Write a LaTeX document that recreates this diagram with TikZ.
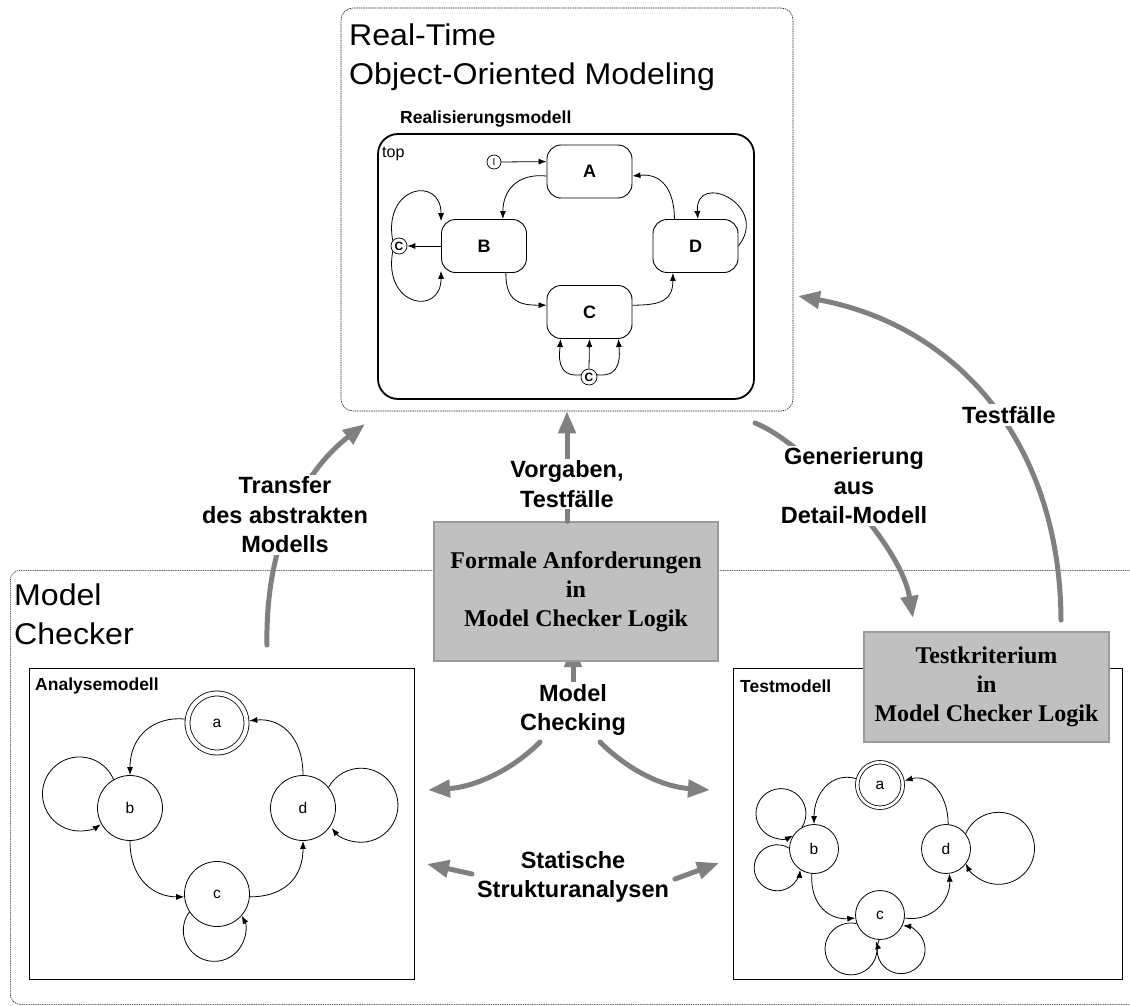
\documentclass[tikz,border=0pt]{standalone}
\usepackage{fontspec}
\setmainfont{Liberation Serif}
\setsansfont{Liberation Sans}
\newfontfamily\titlefamily[FakeStretch=1.07]{Liberation Sans}
\usetikzlibrary{arrows.meta}

\pgfdeclarelayer{bg}
\pgfsetlayers{bg,main}

\definecolor{flowgray}{RGB}{128,128,128}
\definecolor{logicfill}{RGB}{192,192,192}
\definecolor{logicline}{RGB}{155,155,155}

\newcommand\titlefont{\titlefamily\fontsize{30}{39}\selectfont}
\newcommand\flowfont{\sffamily\bfseries\fontsize{23.5}{29.5}\selectfont}
\newcommand\headfont{\sffamily\bfseries\fontsize{17.5}{20}\selectfont}
\newcommand\logicfont{\rmfamily\bfseries\fontsize{24}{29}\selectfont}
\newcommand\statefont{\sffamily\bfseries\fontsize{18}{18}\selectfont}
\newcommand\circfont{\sffamily\fontsize{15.5}{15.5}\selectfont}
\newcommand\juncfont{\sffamily\bfseries\fontsize{12}{12}\selectfont}

\tikzset{
  frame/.style={draw=black!85, line width=0.6pt, dash pattern=on 1.5pt off 0.8pt},
  modelbox/.style={draw=black, line width=0.9pt, inner sep=0pt},
  logicbox/.style={draw=logicline, line width=1.2pt, fill=logicfill, align=center, font=\logicfont},
  flow/.style={draw=flowgray, line width=5pt, line cap=round, -{Triangle[length=22pt,width=17pt]}},
  flowlabel/.style={font=\flowfont, align=center, fill=white, inner sep=2pt},
  trans/.style={draw=black, line width=0.8pt, -{Latex[length=8pt,width=6pt]}},
  chartstate/.style={draw, line width=0.9pt, rounded corners=14pt, minimum width=85pt, minimum height=53pt, inner sep=0pt, font=\statefont},
  junction/.style={draw, circle, line width=0.7pt, minimum size=16pt, inner sep=0pt, font=\juncfont},
  anstate/.style={draw, circle, line width=0.8pt, minimum size=65pt, inner sep=0pt, font=\circfont},
  tmstate/.style={draw, circle, line width=0.8pt, minimum size=49pt, inner sep=0pt, font=\circfont},
  boxhead/.style={anchor=west, inner sep=0pt, font=\headfont},
  bigtitle/.style={anchor=north west, inner sep=0pt, align=left, font=\titlefont}
}

\begin{document}
\begin{tikzpicture}[x=1pt,y=-1pt]
\useasboundingbox (0,0) rectangle (1130,1006);
\clip (0,0) rectangle (1130,1006);

% ---- outer frames ----
\node[frame, rounded corners=12pt, minimum width=452pt, minimum height=403pt] (rt) at (567,209.5) {};
\node[frame, rounded corners=10pt, anchor=north west, minimum width=1140pt, minimum height=434pt] (mcf) at (10,570) {};
\node[bigtitle] (rttitle) at (349,24) {Real-Time\\Object-Oriented Modeling};
\node[bigtitle] (mctitle) at (14,584) {Model\\Checker};

% ---- realisation statechart ----
\node[boxhead] (rmlabel) at (400,119) {Realisierungsmodell};
\node[draw, line width=1.8pt, rounded corners=20pt, minimum width=376pt, minimum height=265pt] (topst) at (566,266.5) {};
\node[anchor=west, inner sep=0pt, font=\sffamily\fontsize{16}{16}\selectfont] (toplabel) at (382,154) {top};
\node[chartstate] (A) at (589.5,171.5) {A};
\node[chartstate] (B) at (484,246) {B};
\node[chartstate] (C) at (589.5,312) {C};
\node[chartstate] (D) at (695.5,246) {D};
\node[junction, minimum size=14pt, font=\sffamily\fontsize{10}{10}\selectfont] (init) at (494,162) {I};
\node[junction] (lj) at (399,246) {C};
\node[junction] (cj) at (589,377) {C};

\draw[trans] (init.east) -- (A.167);
\draw[trans] (A.186) .. controls +(-30,-3) and +(0,-28) .. (B.55);
\draw[trans] (D.128) .. controls +(0,-28) and +(30,-3) .. (A.354);
\draw[trans] (B.-51) .. controls +(0,28) and +(-28,0) .. (C.171);
\draw[trans] (C.9) .. controls +(28,0) and +(0,28) .. (D.-130);
\draw[trans] (D.east) .. controls +(32,-41) and +(-3,-49) .. (D.85);
\draw[trans] (B.west) -- (lj.east);
\draw[trans] (lj.139) .. controls +(-10,-55) and +(0,-46) .. (B.150);
\draw[trans] (lj.-139) .. controls +(-10,55) and +(0,46) .. (B.-150);
\draw[trans] (cj.north) -- (C.south);
\draw[trans] (cj.165) .. controls +(-26,3) and +(-1,14) .. (C.-137);
\draw[trans] (cj.15) .. controls +(26,3) and +(1,14) .. (C.-43);

% ---- analysis model ----
\node[modelbox, minimum width=385pt, minimum height=311pt] (anbox) at (221.5,823.5) {};
\node[boxhead] (anlabel) at (35,686) {Analysemodell};
\node[anstate, minimum size=59pt, double, double distance=4.2pt, outer sep=2.9pt] (aa) at (217,723) {a};
\node[anstate] (ab) at (130,808) {b};
\node[anstate] (ac) at (217,894) {c};
\node[anstate] (ad) at (303,808) {d};

\draw[trans] (aa.173) .. controls +(-30,-3) and +(0,-40) .. (ab.north);
\draw[trans] (ad.north) .. controls +(0,-40) and +(30,-3) .. (aa.4);
\draw[trans] (ab.south) .. controls +(0,39) and +(-30,0) .. (ac.185);
\draw[trans] (ac.-5) .. controls +(31,0) and +(0,40) .. (ad.south);
\draw[trans] (ab.120) arc[start angle=-23, end angle=-305, radius=37];
\draw[trans] (ad.39) arc[start angle=-151, end angle=142, radius=37];
\draw[trans] (ac.213) arc[start angle=-143.5, end angle=-388, radius=31];

% ---- test model ----
\node[modelbox, minimum width=389pt, minimum height=311pt] (tmbox) at (927.5,823.5) {};
\node[boxhead] (tmlabel) at (740,686) {Testmodell};
\node[tmstate, minimum size=45.5pt, double, double distance=2.7pt, outer sep=2.2pt] (ta) at (880,785) {a};
\node[tmstate] (tb) at (814,849) {b};
\node[tmstate] (tc) at (880,915) {c};
\node[tmstate] (td) at (946,849) {d};

\draw[trans] (ta.165) .. controls +(-25,-7) and +(0,-30) .. (tb.north);
\draw[trans] (td.85) .. controls +(0,-30) and +(25,-7) .. (ta.10);
\draw[trans] (tb.265) .. controls +(-2,32) and +(-25,2) .. (tc.187);
\draw[trans] (tc.-7) .. controls +(25,4) and +(1,29) .. (td.-82);
\draw[trans] (tb.119) arc[start angle=33, end angle=-298.5, radius=25];
\draw[trans] (tb.178) arc[start angle=-58.7, end angle=-355, radius=23];
\draw[trans] (td.38) arc[start angle=-156, end angle=155, radius=36];
\draw[trans] (tc.200) arc[start angle=-77.6, end angle=-377, radius=26];
\draw[trans] (tc.268) arc[start angle=-156, end angle=-445, radius=24];

% ---- requirement and criterion boxes ----
\node[logicbox, minimum width=284pt, minimum height=139pt] (fa) at (576,591.5) {Formale Anforderungen\\in\\Model Checker Logik};
\node[logicbox, minimum width=245pt, minimum height=110pt] (tk) at (986.5,687) {Testkriterium\\in\\Model Checker Logik};

% ---- process arrows ----
\coordinate (tr0) at (267,645);
\coordinate (tr1) at (365,424);
\draw[flow] (tr0) .. controls (265,540) and (305,470) .. (tr1);
\node[flowlabel] (trl) at (285,515) {Transfer\\des abstrakten\\Modells};

\draw[flow] (fa.north -| rt.south) -- (rt.south);
\node[flowlabel] (vgl) at (567,484) {Vorgaben,\\Testfälle};

\coordinate (gen0) at (755,423);
\coordinate (gen1) at (913,618);
\draw[flow] (gen0) .. controls (800,440) and (900,540) .. (gen1);
\node[flowlabel] (genl) at (854,486) {Generierung\\aus\\Detail-Modell};

\coordinate (tf0) at (1061,620);
\coordinate (tf1) at (798,296);
\draw[flow] (tf0) .. controls (1060,440) and (955,325) .. (tf1);
\node[flowlabel] (tfl) at (1009,415) {Testfälle};

\node[flowlabel] (mcl) at (573,710) {Model\\Checking};
\coordinate (mcup) at (573,645);
\begin{pgfonlayer}{bg}
\draw[flow] (mcl.north) -- (mcup);
\end{pgfonlayer}
\coordinate (mcL0) at (540,742);
\coordinate (mcL1) at (428,790);
\coordinate (mcR0) at (600,742);
\coordinate (mcR1) at (710,790);
\draw[flow] (mcL0) .. controls (510,772) and (473,787) .. (mcL1);
\draw[flow] (mcR0) .. controls (630,772) and (665,787) .. (mcR1);

\coordinate (ssL0) at (472,874);
\coordinate (ssL1) at (427,864);
\coordinate (ssR0) at (675,879);
\coordinate (ssR1) at (719,863);
\draw[flow] (ssL0) -- (ssL1);
\draw[flow] (ssR0) -- (ssR1);
\node[flowlabel] (ssl) at (573,877) {Statische\\Strukturanalysen};

\end{tikzpicture}
\end{document}
